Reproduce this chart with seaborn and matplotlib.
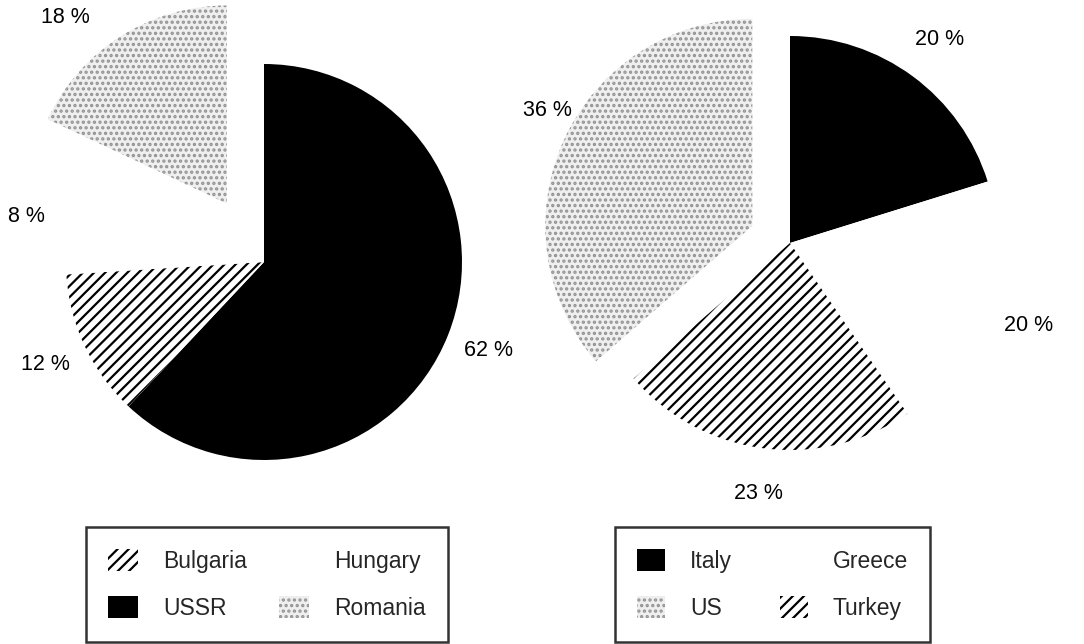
import matplotlib
matplotlib.use("Agg")
import matplotlib.pyplot as plt
import seaborn as sns

# Estilo
sns.set_theme(style="white")
plt.rcParams['font.family'] = ['Liberation Sans', 'DejaVu Sans']
plt.rcParams['hatch.linewidth'] = 1.6

# Datos (porcentajes)
east_names = ["USSR", "Bulgaria", "Hungary", "Romania"]
east_share = [62, 12, 8, 18]
east_explode = [0, 0, 0, 0.35]
east_legend = ["Bulgaria", "USSR", "Hungary", "Romania"]

west_names = ["Italy", "Greece", "Turkey", "US"]
west_share = [20, 20, 23, 36]
west_explode = [0, 0, 0, 0.2]
west_legend = ["Italy", "US", "Greece", "Turkey"]

# relleno de cada pais: (color, trama, color de trama)
solid = ("black", "", "black")
hatched = ("white", "///", "black")
blank = ("white", "", "white")
dotted = ("#efefef", "...", "#939393")
styles = {"USSR": solid, "Italy": solid,
          "Bulgaria": hatched, "Turkey": hatched,
          "Hungary": blank, "Greece": blank,
          "Romania": dotted, "US": dotted}

W, H = 1084, 644
fig = plt.figure(figsize=(W / 100, H / 100), dpi=100)
ax = fig.add_axes([0, 0, 1, 1])


def draw_pie(names, shares, explode, center, radius):
    wedges, texts, autotexts = ax.pie(
        shares, explode=[e * radius for e in explode],
        colors=[styles[n][0] for n in names],
        hatch=[styles[n][1] for n in names],
        startangle=90, counterclock=False,
        center=center, radius=radius,
        autopct='%.0f %%', pctdistance=1.22,
        wedgeprops={'linewidth': 0},
        textprops={'fontsize': 15.5, 'color': 'black'})
    for w, n in zip(wedges, names):
        w.set_edgecolor(styles[n][2])
        w.set_linewidth(0)
    return dict(zip(names, wedges)), dict(zip(names, autotexts))


east_wedges, east_txt = draw_pie(east_names, east_share, east_explode, (264, H - 262), 198)
west_wedges, west_txt = draw_pie(west_names, west_share, west_explode, (790, H - 243), 207)

# la etiqueta del sector separado queda algo mas abajo y a la izquierda
x, y = east_txt["Romania"].get_position()
east_txt["Romania"].set_position((x - 32, y - 18))
x, y = west_txt["US"].get_position()
west_txt["US"].set_position((x + 25, y + 10))

ax.set_xlim(0, W)
ax.set_ylim(0, H)
ax.set_aspect('equal')
ax.axis('off')

leg1 = fig.legend([east_wedges[n] for n in east_legend], east_legend,
                  ncol=2, loc='upper left', bbox_to_anchor=(86 / W, 1 - 527 / H),
                  borderaxespad=0, fontsize=16.5, frameon=True, fancybox=False,
                  edgecolor='black', handlelength=1.3, handleheight=1.1,
                  handletextpad=1.1, columnspacing=1.4, labelspacing=1.0,
                  borderpad=0.98)
leg1.get_frame().set_linewidth(1.8)

leg2 = fig.legend([west_wedges[n] for n in west_legend], west_legend,
                  ncol=2, loc='upper left', bbox_to_anchor=(615 / W, 1 - 527 / H),
                  borderaxespad=0, fontsize=16.5, frameon=True, fancybox=False,
                  edgecolor='black', handlelength=1.22, handleheight=1.1,
                  handletextpad=1.07, columnspacing=2.1, labelspacing=1.0,
                  borderpad=0.98)
leg2.get_frame().set_linewidth(1.8)

fig.savefig("out.png", dpi=100, facecolor='white')
